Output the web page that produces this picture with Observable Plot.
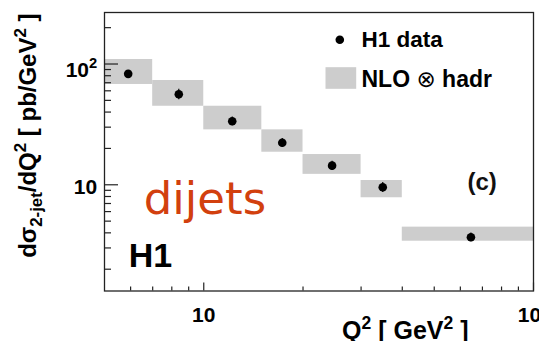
<!DOCTYPE html>
<html><head><meta charset="utf-8">
<script src="https://cdn.jsdelivr.net/npm/d3@7"></script>
<script src="https://cdn.jsdelivr.net/npm/@observablehq/plot@0.6"></script>
<style>html,body{margin:0;padding:0;background:#fff;} svg{display:block;}</style>
</head><body>
<script>
// ---- data ----
const binLow   = [5, 7, 10, 15, 20, 30, 40];
const binHigh  = [7, 10, 15, 20, 30, 40, 100];
const q2Points = [5.9, 8.4, 12.2, 17.3, 24.5, 34.9, 64.6];
const xsecData = [82.9, 56.2, 33.6, 22.3, 14.4, 9.55, 3.68];
const xsecErr  = [3.0, 5.5, 2.8, 1.9, 1.3, 0.9, 0.3];
const nloLow   = [67.7, 44.7, 28.5, 18.6, 12.2, 7.81, 3.41];
const nloHigh  = [109, 73.0, 44.7, 28.5, 17.8, 10.85, 4.46];
const xMajorTicks = [10, 100];
const xTickLabels = ["10", "10^{2}"];
const xMinorTicks = [6, 7, 8, 9, 20, 30, 40, 50, 60, 70, 80, 90];
const yMajorTicks = [10, 100];
const yTickLabels = ["10", "10^{2}"];
const yMinorTicks = [2, 3, 4, 5, 6, 7, 8, 9, 20, 30, 40, 50, 60, 70, 80, 90, 200];
const legendLabels = ["H1 data", "NLO ⊗ hadr"];
const xTitle = "Q^{2} [ GeV^{2} ]";
const yTitle = "dσ_{2-jet}/dQ^{2} [ pb/GeV^{2} ]";
const panelLabel = "(c)";
const processLabel = "dijets";
const expLabel = "H1";

// ---- layout ----
const W = 539, H = 341, mL = 104, mR = 6, mT = 12, mB = 50.5;
const pw = W - mL - mR, ph = H - mT - mB;
const GRAY = "#cdcdcd";
const FONT = "'Liberation Sans', Arial, Helvetica, sans-serif";

const bins = binLow.map((d, i) => ({x1: d, x2: binHigh[i], y1: nloLow[i], y2: nloHigh[i]}));
const pts = q2Points.map((d, i) => ({x: d, y: xsecData[i], lo: xsecData[i] - xsecErr[i], hi: xsecData[i] + xsecErr[i]}));
const at = (x, y) => ({frameAnchor: "top-left", dx: x - mL, dy: y - mT});

const chart = Plot.plot({
  width: W, height: H,
  marginLeft: mL, marginRight: mR, marginTop: mT, marginBottom: mB,
  style: {fontFamily: FONT, background: "#fff", color: "#000"},
  x: {type: "log", domain: [5, 100], axis: null},
  y: {type: "log", domain: [1.32, 267], axis: null},
  marks: [
    Plot.rect(bins, {x1: "x1", x2: "x2", y1: "y1", y2: "y2", fill: GRAY}),
    Plot.ruleX(pts, {x: "x", y1: "lo", y2: "hi", stroke: "#000", strokeWidth: 1.2}),
    Plot.dot(pts, {x: "x", y: "y", r: 4.3, fill: "#000", stroke: null}),
    Plot.frame({stroke: "#222", strokeWidth: 1.3}),
    // ticks (inward)
    Plot.tickX(xMajorTicks, {x: d => d, insetTop: ph - 8, stroke: "#222", strokeWidth: 1.2}),
    Plot.tickX(xMinorTicks, {x: d => d, insetTop: ph - 4, stroke: "#222", strokeWidth: 1.2}),
    Plot.tickY(yMajorTicks, {y: d => d, insetRight: pw - 14, stroke: "#222", strokeWidth: 1.2}),
    Plot.tickY(yMinorTicks, {y: d => d, insetRight: pw - 7, stroke: "#222", strokeWidth: 1.2}),
    // tick labels
    Plot.text(xMajorTicks, {x: d => d, text: (d, i) => xTickLabels[i], frameAnchor: "bottom", dy: 30.5,
      lineAnchor: "bottom", textAnchor: "middle", fontSize: 21, fontWeight: "bold", fill: "#000"}),
    Plot.text(yMajorTicks.slice(0, 1), {y: d => d, text: (d, i) => yTickLabels[i], frameAnchor: "left", dx: -7.3, dy: 8.9,
      lineAnchor: "bottom", textAnchor: "end", fontSize: 21, fontWeight: "bold", fill: "#000"}),
    Plot.text(yMajorTicks.slice(1), {y: d => d, text: (d, i) => yTickLabels[i + 1], frameAnchor: "left", dx: -7.3, dy: 13.2,
      lineAnchor: "bottom", textAnchor: "end", fontSize: 21, fontWeight: "bold", fill: "#000"}),
    // axis titles
    Plot.text([yTitle], {text: d => d, ...at(35.5, 13), rotate: -90, textAnchor: "end", lineAnchor: "bottom",
      fontSize: 24, fontWeight: "bold", fill: "#000", letterSpacing: 1.0}),
    Plot.text([xTitle], {text: d => d, ...at(468, 338.8), textAnchor: "end", lineAnchor: "bottom",
      fontSize: 25, fontWeight: "bold", fill: "#000"}),
    // legend
    Plot.dot([legendLabels[0]], {...at(339.3, 39.3), r: 4.3, fill: "#000", stroke: null}),
    Plot.frame({fill: GRAY, stroke: "none", insetLeft: 325 - mL, insetRight: mL + pw - 355.7, insetTop: 66.7 - mT, insetBottom: mT + ph - 88.3}),
    Plot.text([legendLabels[0]], {text: d => d, ...at(361, 46.7), textAnchor: "start", lineAnchor: "bottom",
      fontSize: 22.5, fontWeight: "bold", fill: "#000"}),
    Plot.text([legendLabels[1]], {text: d => d, ...at(361, 86), textAnchor: "start", lineAnchor: "bottom",
      fontSize: 23, fontWeight: "bold", fill: "#000", letterSpacing: 0.7}),
    // annotations
    Plot.text([panelLabel], {text: d => d, ...at(481.7, 181.7), textAnchor: "middle", lineAnchor: "middle",
      fontSize: 24, fontWeight: "bold", fill: "#111"}),
    Plot.text([processLabel], {text: d => d, ...at(143.3, 213.3), textAnchor: "start", lineAnchor: "bottom",
      fontSize: 45, fontFamily: "'Comic Sans MS', 'DejaVu Sans', sans-serif", fill: "#d2400e", letterSpacing: 1.2}),
    Plot.text([expLabel], {text: d => d, ...at(128.3, 266.7), textAnchor: "start", lineAnchor: "bottom",
      fontSize: 34, fontWeight: "bold", fill: "#000"})
  ]
});
document.body.appendChild(chart);

// rich text: ^{..} superscript, _{..} subscript, thin ⊗ symbol
function richify(root) {
  root.querySelectorAll("text").forEach(el => {
    const s = el.textContent;
    if (!/[\^_]\{|⊗/.test(s)) return;
    const fs = parseFloat(getComputedStyle(el).fontSize) || 20;
    while (el.firstChild) el.removeChild(el.firstChild);
    const re = /([\^_])\{([^}]*)\}|(⊗)|([^\^_⊗]+)/g;
    let m, shift = 0;
    while ((m = re.exec(s))) {
      const t = document.createElementNS("http://www.w3.org/2000/svg", "tspan");
      if (m[4] !== undefined || m[3] !== undefined) {
        t.textContent = m[4] !== undefined ? m[4] : m[3];
        if (m[3] !== undefined) {
          t.setAttribute("font-weight", "normal");
          t.setAttribute("font-family", "'DejaVu Sans', sans-serif");
          t.setAttribute("font-size", (fs * 1.0) + "px");
        }
        if (shift) t.setAttribute("dy", (-shift) + "px");
        shift = 0;
      } else {
        const target = m[1] === "^" ? -fs * 0.42 : fs * 0.25;
        t.textContent = m[2];
        t.setAttribute("font-size", (fs * 0.7) + "px");
        t.setAttribute("dy", (target - shift) + "px");
        shift = target;
      }
      el.appendChild(t);
    }
  });
}
richify(chart);
</script>
</body></html>
